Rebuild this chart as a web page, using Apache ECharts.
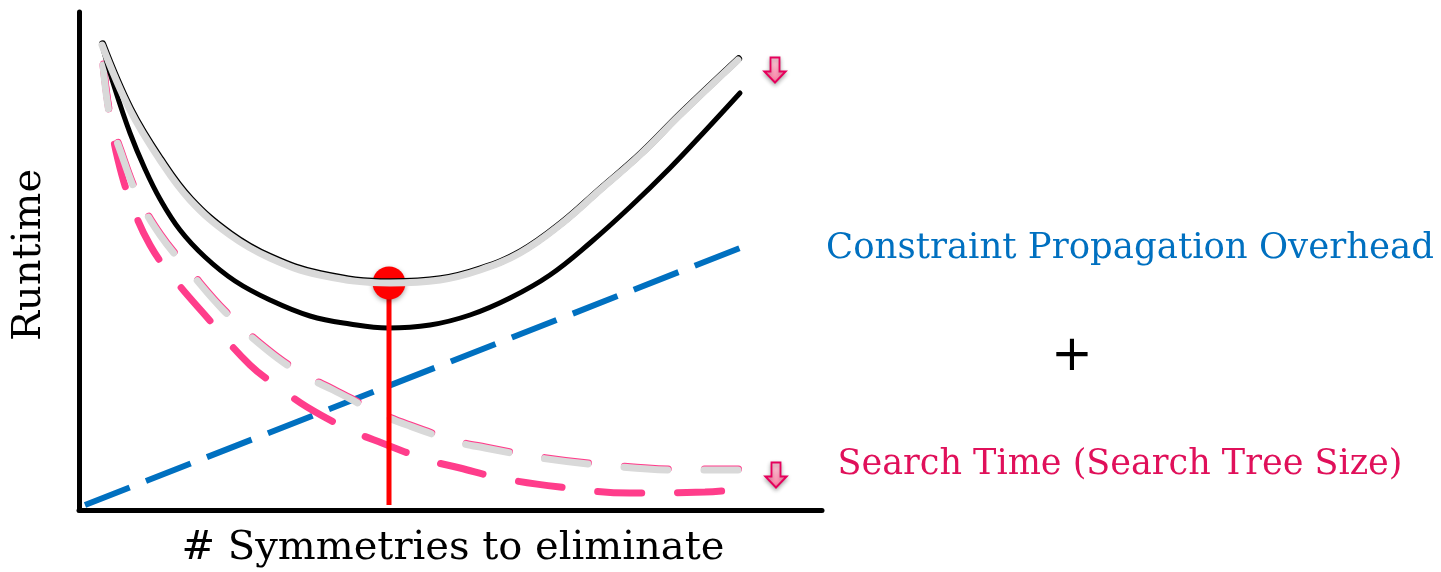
<!DOCTYPE html>
<html>
<head>
<meta charset="utf-8">
<script src="https://cdn.jsdelivr.net/npm/echarts@6/dist/echarts.min.js"></script>
<style>
html,body{margin:0;padding:0;background:#fff;}
#chart{width:1441px;height:572px;}
</style>
</head>
<body>
<div id="chart"></div>
<script>
// Data (x: # symmetries, y: runtime) in arbitrary chart units
var totalNew = [[23,465],[36,421],[51,377],[66,341],[81,311],[101,280],[126,253],[156,229],[191,210],[231,194],[271,186],[309,182],[351,185],[391,195],[431,212],[471,235],[511,267],[551,303],[591,342],[626,379],[661,417]];
var totalOld = [[23,465],[51,400],[81,350],[111,310],[151,275],[191,252],[241,235],[311,227],[361,230],[401,240],[441,257],[481,285],[521,320],[561,355],[601,395],[659,450]];
var searchNew = [[24,445],[31,392],[39,350],[51,310],[71,265],[96,230],[126,195],[171,145],[201,122],[228,103],[271,80],[303,67],[349,50],[381,42],[421,32],[481,23],[551,17],[626,18],[678,23]];
var searchOld = [[24,445],[31,392],[41,360],[59,313],[81,275],[111,238],[146,198],[188,160],[224,135],[254,120],[299,97],[328,85],[378,68],[406,62],[461,52],[521,45],[601,40],[659,40]];
var overhead = [[6,5],[661,262]];
var optimumLine = [[310,5],[310,227]];
var optimumPoint = [[310,227]];
var arrows = [[696,440],[697,35]];

var labelRuntime = 'Runtime';
var labelX = '# Symmetries to eliminate';
var labelOverhead = 'Constraint Propagation Overhead';
var labelSearch = 'Search Time (Search Tree Size)';
var labelPlus = '+';

var chart = echarts.init(document.getElementById('chart'), null, {renderer:'canvas'});
var serif = '"DejaVu Serif", serif';
chart.setOption({
  animation:false,
  backgroundColor:'#ffffff',
  grid:{left:79, top:12, width:743, height:498},
  xAxis:{type:'value', min:0, max:743, axisLine:{show:true, onZero:false, lineStyle:{color:'#000', width:5}}, axisTick:{show:false}, axisLabel:{show:false}, splitLine:{show:false}},
  yAxis:{type:'value', min:0, max:498, axisLine:{show:true, onZero:false, lineStyle:{color:'#000', width:5}}, axisTick:{show:false}, axisLabel:{show:false}, splitLine:{show:false}},
  series:[
    {type:'line', data:overhead, symbol:'none', z:2, lineStyle:{color:'#0070c0', width:6, type:[48,17.5], cap:'butt'}},
    {type:'line', data:searchNew, smooth:0.4, symbol:'none', z:3, lineStyle:{color:'#ff3d8b', width:7, type:[44,36], cap:'round'}},
    {type:'line', data:searchOld, smooth:0.4, symbol:'none', z:4, lineStyle:{color:'#d9d9d9', width:7, type:[44,36], cap:'round', shadowColor:'#ff3d8b', shadowOffsetY:-1, shadowOffsetX:0.5, shadowBlur:0}},
    {type:'line', data:totalNew, smooth:0.4, symbol:'none', z:5, lineStyle:{color:'#000', width:5, cap:'round'}},
    {type:'line', data:optimumLine, symbol:'none', z:6, lineStyle:{color:'#ff0000', width:5}},
    {type:'scatter', data:optimumPoint, symbol:'circle', symbolSize:33, z:7, itemStyle:{color:'#ff0000', opacity:1, shadowColor:'rgba(0,0,0,0.35)', shadowBlur:5, shadowOffsetY:2}},
    {type:'line', data:totalOld, smooth:0.4, symbol:'none', z:8, lineStyle:{color:'#d9d9d9', width:7, cap:'round', shadowColor:'#000', shadowOffsetY:-1.2, shadowOffsetX:0.6, shadowBlur:0}},
    {type:'scatter', data:arrows, symbol:'path://M6,0 L15,0 L15,14 L21,14 L10.5,25 L0,14 L6,14 Z', symbolSize:[21,25], z:9,
      itemStyle:{opacity:1, color:{type:'linear', x:0, y:0, x2:0, y2:1, colorStops:[{offset:0,color:'#ffd6e2'},{offset:1,color:'#ff7aa2'}]}, borderColor:'#e6005c', borderWidth:2, shadowColor:'rgba(0,0,0,0.3)', shadowBlur:4, shadowOffsetY:2}}
  ],
  graphic:[
    {type:'text', x:30, y:255, rotation:Math.PI/2, style:{text:labelRuntime, font:'40px '+serif, fill:'#000', textAlign:'center', textVerticalAlign:'middle'}},
    {type:'text', x:453, y:549, style:{text:labelX, font:'40px '+serif, fill:'#000', textAlign:'center', textVerticalAlign:'middle'}},
    {type:'text', x:1130, y:249, style:{text:labelOverhead, font:'35.5px '+serif, fill:'#0070c0', textAlign:'center', textVerticalAlign:'middle'}},
    {type:'text', x:1120, y:465, style:{text:labelSearch, font:'35px '+serif, fill:'#e0105a', textAlign:'center', textVerticalAlign:'middle'}},
    {type:'text', x:1072, y:357, style:{text:labelPlus, font:'50px "DejaVu Sans", sans-serif', fill:'#000', textAlign:'center', textVerticalAlign:'middle'}}
  ]
});
</script>
</body>
</html>
